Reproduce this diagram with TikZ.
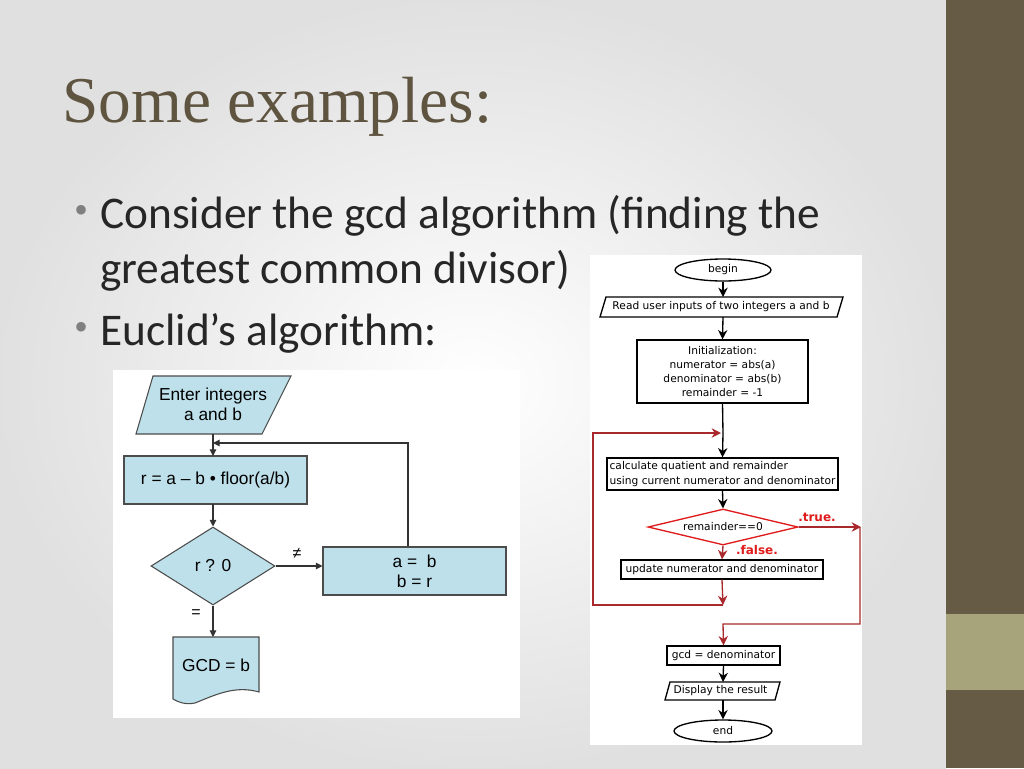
\documentclass[tikz,border=0pt]{standalone}
\usepackage{fontspec}
\setmainfont{Liberation Serif}
\newfontfamily\bodyfont{Carlito}
\newfontfamily\arialf{Liberation Sans}
\newfontfamily\dejaf{DejaVu Sans}
\usetikzlibrary{arrows.meta,shapes.geometric}
\definecolor{olive}{HTML}{665C45}
\definecolor{oliveL}{HTML}{A7A47C}
\definecolor{titlec}{HTML}{5E5440}
\definecolor{lblue}{HTML}{BEE0EA}
\definecolor{dred}{HTML}{A8282B}
\definecolor{bred}{HTML}{E01B1B}
\tikzset{
 lbox/.style={draw=black!70,fill=lblue,line width=0.8pt,font=\arialf\fontsize{13}{15}\selectfont,align=center,inner sep=0pt},
 rbox/.style={draw=black,line width=1pt,font=\dejaf\fontsize{8}{10.6}\selectfont,align=center,inner sep=0pt},
 larr/.style={-{Triangle[length=5pt,width=5pt]},line width=0.8pt,draw=black!80},
 rarr/.style={-{Stealth[length=7pt,width=7pt]},line width=1pt},
 redarr/.style={-{Stealth[length=7pt,width=7pt]},line width=1pt,draw=dred,color=dred},
 bul/.style={anchor=base west,font=\bodyfont\fontsize{34}{36}\selectfont,text=black!85,inner sep=0},
}
\begin{document}
\begin{tikzpicture}[x=0.75pt,y=-0.75pt]
\useasboundingbox (0,0) rectangle (1024,768);
\shade[inner color=white,outer color=black!12] (0,0) rectangle (946,768);
\fill[olive] (946,0) rectangle (1024,768);
\fill[oliveL] (946,614) rectangle (1024,690);
\node[anchor=base west,text=titlec,font=\fontsize{49}{54}\selectfont,inner sep=0] (title) at (62,122) {Some examples:};
\node[bul] (b1) at (100,228) {Consider the gcd algorithm (finding the};
\node[bul] (b1b) at (100,283) {greatest common divisor)};
\node[bul] (b2) at (100,345) {Euclid’s algorithm:};
\node[text=black!50,font=\fontsize{30}{30}\selectfont] (d1b) at (82,214) {\textbullet};
\node[text=black!50,font=\fontsize{30}{30}\selectfont] (d2b) at (82,331) {\textbullet};
% white panels
\fill[white] (113,370) rectangle (520,718);
\fill[white] (590,255) rectangle (862,745);
% left chart
\path[draw=black!70,fill=lblue,line width=0.8pt] (153,376) -- (291,376) -- (262,434) -- (136,434) -- cycle;
\node[font=\arialf\fontsize{13}{15}\selectfont,align=center,inner sep=0] (enter) at (213,404) {Enter integers\\ a and b};
\coordinate (entb) at (213,434);
\node[lbox,minimum width=183*0.75pt,minimum height=48*0.75pt] (r1) at (215.5,480) {r = a – b • floor(a/b)};
\node[lbox,diamond,minimum width=124*0.75pt,minimum height=78*0.75pt,aspect=1.6] (d1) at (213,566) {r ? 0};
\node[lbox,minimum width=183*0.75pt,minimum height=48*0.75pt] (r2) at (414.5,571) {a = \ b\\ b = r};
\path[draw=black!70,fill=lblue,line width=0.8pt] (173,637) -- (259,637) -- (259,692) .. controls (235,685) and (215,695) .. (195,703) .. controls (185,705) and (178,702) .. (173,699) -- cycle;
\node[font=\arialf\fontsize{13}{15}\selectfont,inner sep=0] (gcdb) at (216,665) {GCD = b};
\coordinate (gtop) at (213,637);
\coordinate (j1) at (213,443);
\coordinate (r1b) at (213,504);
\draw[larr] (entb) -- (213,456);
\draw[larr] (r1b) -- (d1.north);
\draw[larr] (d1.east) -- (d1.east -| r2.west);
\draw[larr] (d1.south) -- (gtop);
\draw[larr] (r2.north -| 408,0) -- (408,443) -- (j1);
\node[font=\arialf\fontsize{12}{12}\selectfont] (ne) at (297,553) {≠};
\node[font=\arialf\fontsize{12}{12}\selectfont] (eq) at (196,614) {=};
% right chart
\node[rbox,ellipse,minimum width=96*0.75pt,minimum height=22*0.75pt] (begin) at (723,270) {begin};
\path[draw=black,line width=1pt] (606,297) -- (843,297) -- (837,317) -- (600,317) -- cycle;
\node[font=\dejaf\fontsize{8}{10}\selectfont,inner sep=0] (read) at (721,307) {Read user inputs of two integers a and b};
\node[rbox,minimum width=171*0.75pt,minimum height=63*0.75pt] (init) at (722.5,371.5) {Initialization:\\numerator = abs(a)\\denominator = abs(b)\\remainder = -1};
\node[rbox,minimum width=231*0.75pt,minimum height=32*0.75pt,align=left] (calc) at (722.5,474) {calculate quatient and remainder\\using current numerator and denominator};
\node[draw=bred,line width=1pt,diamond,aspect=4.2,minimum width=150*0.75pt,minimum height=36*0.75pt,inner sep=0,font=\dejaf\fontsize{8}{10}\selectfont] (dia) at (723,527) {remainder==0};
\node[rbox,minimum width=202*0.75pt,minimum height=19*0.75pt] (upd) at (722,569.5) {update numerator and denominator};
\node[rbox,minimum width=113*0.75pt,minimum height=19*0.75pt] (gcd) at (723.5,655.5) {gcd = denominator};
\path[draw=black,line width=1pt] (670,682) -- (780,682) -- (775,700) -- (665,700) -- cycle;
\node[font=\dejaf\fontsize{8}{10}\selectfont,inner sep=0] (disp) at (720.5,691) {Display the result};
\node[rbox,ellipse,minimum width=98*0.75pt,minimum height=22*0.75pt] (end) at (723,731) {end};
\draw[rarr] (begin.south) -- (723,297);
\draw[rarr] (723,317) -- (init.north);
\draw[line width=1pt] (init.south) -- (723,433);
\draw[rarr] (723,433) -- (calc.north);
\draw[rarr] (calc.south) -- (dia.north);
\draw[redarr] (dia.south) -- (upd.north);
\draw[redarr] (upd.south) -- (723,605);
\draw[redarr] (723,605) -- (593,605) -- (593,433) -- (721,433);
\draw[redarr] (dia.east) -- (861,527);
\draw[redarr] (860,527) -- (860,624) -- (723,624) -- (gcd.north);
\draw[rarr] (gcd.south) -- (723,682);
\draw[rarr] (723,700) -- (end.north);
\node[text=bred,font=\dejaf\bfseries\fontsize{9}{10}\selectfont] (tl) at (817,517) {.true.};
\node[text=bred,font=\dejaf\bfseries\fontsize{9}{10}\selectfont] (fl) at (757,550) {.false.};
\end{tikzpicture}
\end{document}
